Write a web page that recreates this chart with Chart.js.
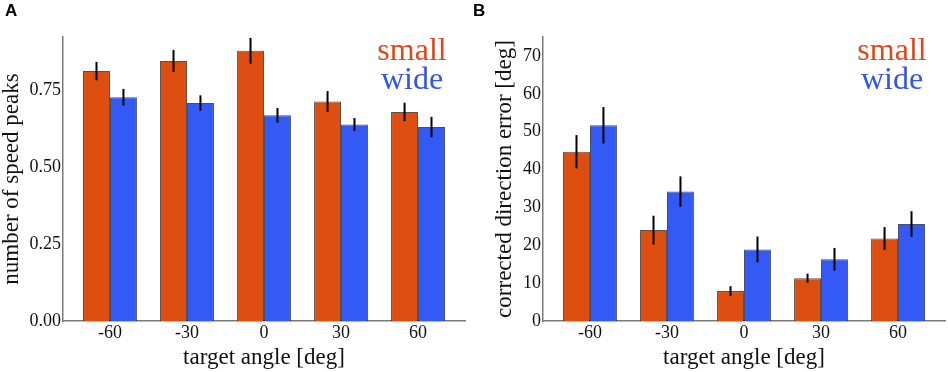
<!DOCTYPE html>
<html>
<head>
    <title>Speed peaks and direction error</title>
    <meta charset="UTF-8">
    <style>
        body { margin: 0; background: #fff; }
        .wrap { position: relative; width: 948px; height: 372px; }
        canvas { position: absolute; top: 0; }
        #chartA { left: 0; }
        #chartB { left: 480px; }
        .panel {
            position: absolute;
            top: 1px;
            font-family: "Liberation Sans", Arial, sans-serif;
            font-weight: bold;
            font-size: 17px;
        }
    </style>
    <script src="https://cdn.jsdelivr.net/npm/chart.js"></script>
    <script>
        // data
        const angles = [-60, -30, 0, 30, 60];
        const seriesNames = ['small', 'wide'];

        const peaksSmall = [0.814, 0.847, 0.880, 0.715, 0.681];
        const peaksSmallErr = [0.030, 0.036, 0.042, 0.034, 0.030];
        const peaksWide = [0.729, 0.710, 0.670, 0.640, 0.632];
        const peaksWideErr = [0.027, 0.025, 0.024, 0.021, 0.033];

        const errorSmall = [44.7, 24.0, 7.9, 11.3, 21.8];
        const errorSmallErr = [4.4, 3.8, 1.3, 1.2, 3.0];
        const errorWide = [51.7, 34.2, 18.9, 16.3, 25.6];
        const errorWideErr = [4.8, 4.0, 3.4, 3.0, 3.4];

        const peaksTicks = [0, 0.25, 0.5, 0.75];
        const errorTicks = [0, 10, 20, 30, 40, 50, 60, 70];

        const fillColors = ['#DD4E10', '#3359F6'];
        const textColors = ['#D94A1E', '#3454E8'];
        const serif = '"Liberation Serif", "Times New Roman", serif';

        // vertical error bars, no caps
        const errorBars = {
            id: 'errorBars',
            afterDatasetsDraw(chart) {
                const ctx = chart.ctx;
                const y = chart.scales.y;
                ctx.save();
                ctx.strokeStyle = '#000';
                ctx.lineWidth = 2;
                chart.data.datasets.forEach((ds, i) => {
                    const meta = chart.getDatasetMeta(i);
                    meta.data.forEach((bar, j) => {
                        const v = ds.data[j].y;
                        const e = ds.errors[j];
                        ctx.beginPath();
                        ctx.moveTo(bar.x, y.getPixelForValue(v - e));
                        ctx.lineTo(bar.x, y.getPixelForValue(v + e));
                        ctx.stroke();
                    });
                });
                ctx.restore();
            }
        };

        // coloured words in the top right corner
        const wordLegend = {
            id: 'wordLegend',
            afterDraw(chart) {
                const ctx = chart.ctx;
                const area = chart.chartArea;
                ctx.save();
                ctx.font = '32px ' + serif;
                ctx.textAlign = 'center';
                ctx.textBaseline = 'alphabetic';
                const cx = area.right - 53;
                seriesNames.forEach((name, i) => {
                    ctx.fillStyle = textColors[i];
                    ctx.fillText(name, cx, 60 + i * 29);
                });
                ctx.restore();
            }
        };

        function makeChart(id, small, smallErr, wide, wideErr, yMax, yTicks, yTitle, titlePad, rightPad, decimals) {
            const ctx = document.getElementById(id).getContext('2d');
            return new Chart(ctx, {
                type: 'bar',
                data: {
                    datasets: [
                        {
                            label: seriesNames[0],
                            data: angles.map((a, i) => ({ x: a, y: small[i] })),
                            errors: smallErr,
                            backgroundColor: fillColors[0],
                            borderColor: 'rgba(40,20,10,0.75)',
                            borderWidth: 1
                        },
                        {
                            label: seriesNames[1],
                            data: angles.map((a, i) => ({ x: a, y: wide[i] })),
                            errors: wideErr,
                            backgroundColor: fillColors[1],
                            borderColor: 'rgba(10,20,60,0.75)',
                            borderWidth: 1
                        }
                    ]
                },
                options: {
                    responsive: false,
                    animation: false,
                    categoryPercentage: 0.7,
                    barPercentage: 1.0,
                    layout: { padding: { left: 0, right: rightPad, top: 37, bottom: 0 } },
                    plugins: {
                        legend: { display: false },
                        tooltip: { enabled: false }
                    },
                    scales: {
                        x: {
                            type: 'linear',
                            offset: false,
                            min: -78.3,
                            max: 78.3,
                            afterBuildTicks: scale => { scale.ticks = angles.map(v => ({ value: v })); },
                            afterFit: scale => { scale.height = 51; },
                            grid: { display: false, drawTicks: false },
                            border: { display: true, color: '#7a7a7a', width: 1.5 },
                            ticks: {
                                padding: 1,
                                color: '#111',
                                font: { family: serif, size: 18 },
                                callback: v => String(v)
                            },
                            title: {
                                display: true,
                                text: 'target angle [deg]',
                                color: '#111',
                                padding: 0,
                                font: { family: serif, size: 23 }
                            }
                        },
                        y: {
                            min: 0,
                            max: yMax,
                            afterBuildTicks: scale => { scale.ticks = yTicks.map(v => ({ value: v })); },
                            afterFit: scale => { scale.width = 63; },
                            grid: { display: false, drawTicks: false },
                            border: { display: true, color: '#7a7a7a', width: 1.5 },
                            ticks: {
                                padding: 2,
                                color: '#111',
                                font: { family: serif, size: 18 },
                                callback: v => v.toFixed(decimals)
                            },
                            title: {
                                display: true,
                                text: yTitle,
                                color: '#111',
                                padding: { top: titlePad, bottom: 0 },
                                font: { family: serif, size: 23, lineHeight: 1.0 }
                            }
                        }
                    }
                },
                plugins: [errorBars, wordLegend]
            });
        }

        window.onload = function () {
            makeChart('chartA', peaksSmall, peaksSmallErr, peaksWide, peaksWideErr,
                0.925, peaksTicks, 'number of speed peaks', 0.5, 15, 2);
            makeChart('chartB', errorSmall, errorSmallErr, errorWide, errorWideErr,
                75, errorTicks, 'corrected direction error [deg]', 13, 3, 0);
        };
    </script>
</head>
<body>
<div class="wrap">
    <canvas id="chartA" width="480" height="372"></canvas>
    <canvas id="chartB" width="468" height="372"></canvas>
    <div class="panel" style="left:5px;">A</div>
    <div class="panel" style="left:473px;">B</div>
</div>
</body>
</html>
